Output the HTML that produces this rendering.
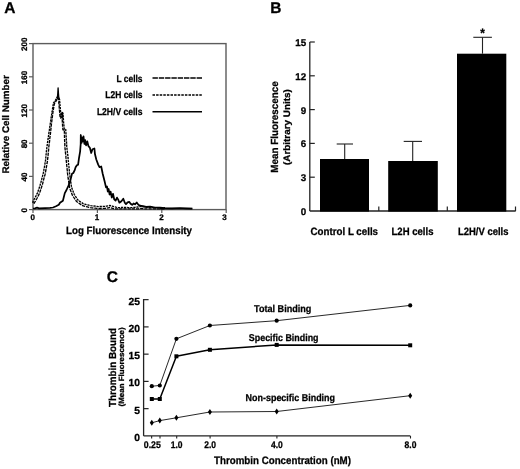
<!DOCTYPE html>
<html lang="en"><head><meta charset="utf-8"><title>Figure</title>
<style>html,body{margin:0;padding:0;background:#fff}svg{display:block;filter:grayscale(1)}svg text{font-family:"Liberation Sans",Arial,Helvetica,sans-serif;font-weight:bold;text-rendering:geometricPrecision;stroke:#000;stroke-width:.28px}</style></head>
<body>
<svg width="520" height="469" viewBox="0 0 520 469"  fill="#000">
<rect width="520" height="469" fill="#fff"/>
<text x="4.2" y="13.4" font-size="15.5" text-anchor="start" >A</text>
<text x="270.3" y="13.4" font-size="15.5" text-anchor="start" >B</text>
<text x="106.8" y="281.6" font-size="15.5" text-anchor="start" >C</text>
<rect x="33" y="43.6" width="193" height="166.0" fill="none" stroke="#5c5c5c" stroke-width="1.4"/>
<line x1="29" y1="209.6" x2="33" y2="209.6" stroke="#5c5c5c" stroke-width="1.2" />
<text x="27.2" y="210.29999999999998" font-size="8.0" text-anchor="middle" transform="rotate(-90 27.2 210.29999999999998)" >0</text>
<line x1="29" y1="176.39999999999998" x2="33" y2="176.39999999999998" stroke="#5c5c5c" stroke-width="1.2" />
<text x="27.2" y="177.09999999999997" font-size="8.0" text-anchor="middle" transform="rotate(-90 27.2 177.09999999999997)" >40</text>
<line x1="29" y1="143.2" x2="33" y2="143.2" stroke="#5c5c5c" stroke-width="1.2" />
<text x="27.2" y="143.89999999999998" font-size="8.0" text-anchor="middle" transform="rotate(-90 27.2 143.89999999999998)" >80</text>
<line x1="29" y1="109.99999999999999" x2="33" y2="109.99999999999999" stroke="#5c5c5c" stroke-width="1.2" />
<text x="27.2" y="110.69999999999999" font-size="8.0" text-anchor="middle" transform="rotate(-90 27.2 110.69999999999999)" >120</text>
<line x1="29" y1="76.79999999999998" x2="33" y2="76.79999999999998" stroke="#5c5c5c" stroke-width="1.2" />
<text x="27.2" y="77.49999999999999" font-size="8.0" text-anchor="middle" transform="rotate(-90 27.2 77.49999999999999)" >160</text>
<line x1="29" y1="43.599999999999994" x2="33" y2="43.599999999999994" stroke="#5c5c5c" stroke-width="1.2" />
<text x="27.2" y="44.3" font-size="8.0" text-anchor="middle" transform="rotate(-90 27.2 44.3)" >200</text>
<line x1="33.0" y1="209.6" x2="33.0" y2="213.1" stroke="#5c5c5c" stroke-width="1.2" />
<text x="32.7" y="220.3" font-size="8.0" text-anchor="middle" >0</text>
<line x1="97.4" y1="209.6" x2="97.4" y2="213.1" stroke="#5c5c5c" stroke-width="1.2" />
<text x="97.10000000000001" y="220.3" font-size="8.0" text-anchor="middle" >1</text>
<line x1="161.8" y1="209.6" x2="161.8" y2="213.1" stroke="#5c5c5c" stroke-width="1.2" />
<text x="161.5" y="220.3" font-size="8.0" text-anchor="middle" >2</text>
<line x1="226.20000000000002" y1="209.6" x2="226.20000000000002" y2="213.1" stroke="#5c5c5c" stroke-width="1.2" />
<text x="224.50000000000003" y="220.3" font-size="8.0" text-anchor="middle" >3</text>
<text x="9.4" y="124.3" font-size="9.6" text-anchor="middle" transform="rotate(-90 9.4 124.3)" textLength="98.4" lengthAdjust="spacingAndGlyphs" >Relative Cell Number</text>
<text x="129" y="234.4" font-size="10.6" text-anchor="middle" textLength="126" lengthAdjust="spacingAndGlyphs" >Log Fluorescence Intensity</text>
<text x="142.5" y="81.5" font-size="9.9" text-anchor="end" textLength="26" lengthAdjust="spacingAndGlyphs" >L cells</text>
<text x="142.5" y="98.3" font-size="9.9" text-anchor="end" textLength="37.2" lengthAdjust="spacingAndGlyphs" >L2H cells</text>
<text x="142.5" y="114.9" font-size="9.9" text-anchor="end" textLength="45.6" lengthAdjust="spacingAndGlyphs" >L2H/V cells</text>
<line x1="152.5" y1="78" x2="202" y2="78" stroke="#000" stroke-width="1.4" stroke-dasharray="5.4 0.9"/>
<line x1="152.5" y1="95" x2="202" y2="95" stroke="#000" stroke-width="1.5" stroke-dasharray="2.5 1.1"/>
<line x1="152.5" y1="111.7" x2="202" y2="111.7" stroke="#000" stroke-width="1.6" />
<polyline fill="none" stroke="#000" stroke-width="1.35" stroke-linejoin="round" stroke-dasharray="2.3 0.8" points="33.0,202.9 33.0,201.5 33.6,200.2 34.4,198.9 35.1,197.6 36.0,195.9 36.8,194.2 37.7,192.6 38.1,191.1 38.6,189.7 39.1,188.2 39.6,186.6 40.1,185.1 40.5,183.7 41.0,182.1 41.4,180.5 41.8,178.9 42.2,177.3 42.6,175.8 43.0,174.2 43.4,172.6 43.7,171.2 43.9,169.7 44.2,168.2 44.5,166.6 44.7,165.1 45.0,163.6 45.2,162.1 45.5,160.6 45.7,159.1 45.8,157.5 46.0,156.0 46.1,154.4 46.3,152.8 46.4,151.3 46.6,149.7 46.8,148.1 47.0,146.6 47.2,145.1 47.4,143.5 47.6,142.0 47.8,140.5 48.1,139.0 48.3,137.5 48.5,136.0 48.7,134.5 48.9,132.9 49.2,131.3 49.4,129.8 49.6,128.2 49.8,126.6 50.1,125.0 50.3,123.4 50.5,121.9 50.8,120.3 51.0,118.7 51.2,117.1 51.5,115.6 51.7,114.0 51.9,112.4 52.2,110.9 52.4,109.4 52.7,107.8 52.9,106.3 53.2,104.8 53.4,103.2 54.9,101.2 56.1,99.0 57.3,96.9 58.9,98.0 59.6,99.6 59.7,101.4 59.9,103.2 60.0,104.9 60.2,106.7 60.3,108.4 60.4,109.9 60.6,111.4 60.7,112.9 60.8,114.4 60.9,115.8 60.6,117.0 61.1,116.2 61.6,114.2 62.1,112.0 63.0,114.0 63.1,115.8 63.2,117.5 63.4,119.1 63.5,120.8 63.6,122.5 63.8,124.2 64.0,126.0 64.1,127.6 64.3,129.3 65.7,129.3 65.8,130.9 65.9,132.6 66.0,134.1 66.1,135.6 66.2,137.2 66.3,138.7 66.4,140.2 66.5,141.8 66.6,143.3 66.7,144.8 66.7,146.3 66.9,147.9 67.1,149.5 67.3,151.2 67.5,152.8 67.7,154.4 67.9,156.0 68.0,157.7 68.2,159.3 68.3,160.9 68.5,162.5 68.6,164.1 68.8,165.7 69.0,167.3 69.1,168.9 69.3,170.5 69.4,172.1 69.6,173.7 69.8,175.2 70.0,176.7 70.2,178.2 70.4,179.7 70.6,181.2 70.9,182.7 71.1,184.2 71.3,185.7 71.5,187.1 72.0,188.6 72.6,190.1 73.2,191.6 73.7,193.1 74.3,194.5 75.2,196.0 76.2,197.4 77.1,198.8 78.0,200.1 79.4,201.1 80.7,202.0 82.1,202.9 83.4,203.9 84.9,204.2 86.3,204.6 87.9,204.9 89.4,205.3 90.9,205.7 92.4,205.9 93.9,206.0 95.4,206.2 96.9,206.4 98.4,206.6 100.1,206.5 101.7,206.5 103.3,206.4 104.9,206.4 106.5,206.1 108.2,205.8 110.0,205.5 112.1,206.1 114.3,206.7 116.0,207.2 117.7,207.6 119.5,207.6 121.3,207.5 123.1,207.5 125.0,207.5 126.8,207.5 128.5,207.6 130.2,207.6 132.0,207.7 133.4,207.5 134.9,207.3 136.4,207.2 137.9,207.0 140.0,206.7 142.1,206.4 144.1,206.9 146.2,207.4 147.6,207.4 149.0,207.5 150.5,207.5 152.0,207.5 153.5,207.6 155.0,207.6 156.7,207.6 158.3,207.6 160.0,207.6 161.7,207.7 163.3,207.7 165.0,207.7"/>
<polyline fill="none" stroke="#000" stroke-width="1.35" stroke-linejoin="round" stroke-dasharray="3.3 0.9" points="33.9,203.8 34.6,202.5 35.4,201.2 36.1,199.8 36.9,198.5 37.8,196.8 38.6,195.1 39.5,193.4 40.0,191.8 40.5,190.3 41.0,188.8 41.5,187.3 42.0,185.7 42.5,184.2 42.9,182.6 43.3,181.0 43.7,179.4 44.1,177.9 44.5,176.3 45.0,174.7 45.4,173.1 45.6,171.5 45.9,170.0 46.2,168.5 46.4,167.0 46.7,165.5 47.0,164.0 47.2,162.4 47.5,160.9 47.6,159.3 47.8,157.7 48.0,156.2 48.1,154.6 48.3,153.0 48.4,151.5 48.6,149.9 48.7,148.4 48.8,146.8 49.0,145.3 49.2,143.8 49.4,142.3 49.6,140.8 49.7,139.2 49.9,137.7 50.1,136.2 50.3,134.7 50.5,133.1 50.6,131.5 50.8,129.9 51.0,128.4 51.2,126.8 51.3,125.2 51.5,123.6 51.7,122.0 51.9,120.4 52.1,118.9 52.3,117.3 52.5,115.7 52.7,114.1 52.9,112.5 53.1,111.0 53.4,109.5 53.6,108.0 53.9,106.5 54.1,105.1 54.4,103.6 55.7,101.6 56.9,99.7 57.7,97.8 58.3,98.8 58.6,99.9 58.7,101.6 58.9,103.3 59.0,105.0 59.2,106.7 59.3,108.5 59.4,110.0 59.6,111.5 59.7,113.0 59.8,114.5 60.0,116.2 60.6,118.0 62.1,116.7 62.4,114.7 62.7,112.9 62.0,114.2 62.1,115.8 62.2,117.5 62.2,119.2 62.3,120.9 62.4,122.6 62.5,124.3 62.6,126.1 62.8,128.0 62.9,129.8 64.3,129.8 64.4,131.3 64.4,132.7 64.4,134.2 64.5,135.7 64.5,137.3 64.6,138.8 64.6,140.3 64.7,141.8 64.8,143.4 64.8,144.9 64.9,146.5 65.0,148.1 65.2,149.8 65.3,151.4 65.5,153.0 65.7,154.6 65.9,156.2 66.0,157.9 66.2,159.5 66.3,161.1 66.5,162.7 66.7,164.3 66.8,165.9 67.0,167.5 67.1,169.1 67.3,170.7 67.4,172.4 67.6,174.0 67.8,175.5 68.0,177.0 68.2,178.5 68.5,180.0 68.7,181.5 68.9,183.0 69.1,184.5 69.3,186.1 69.5,187.6 70.1,189.2 70.7,190.8 71.3,192.3 71.9,193.9 72.5,195.5 73.5,197.0 74.5,198.5 75.5,200.0 76.6,201.5 78.1,202.6 79.6,203.6 81.1,204.7 82.6,205.7 84.2,206.1 85.8,206.5 87.4,206.9 88.9,207.3 90.5,207.7 92.1,207.9 93.7,208.0 95.2,208.2 96.8,208.4 98.4,208.6 100.0,208.5 101.7,208.5 103.4,208.4 105.1,208.4 106.8,208.1 108.3,207.8 109.8,207.5 111.8,208.1 113.7,208.7 115.6,208.9 117.5,208.9 119.4,208.9 121.3,208.9 123.2,208.9 125.0,208.9 126.7,208.9 128.5,208.9 130.3,208.9 132.0,208.9 133.6,208.9 135.1,208.9 136.6,208.9 138.1,208.9 140.0,208.7 141.9,208.4 143.9,208.9 145.8,208.9 147.4,208.9 149.0,208.9 150.5,208.9 152.0,208.9 153.5,208.9 155.0,208.9 156.7,208.9 158.3,208.9 160.0,208.9 161.7,208.9 163.3,208.9 165.0,208.9"/>
<polyline fill="none" stroke="#000" stroke-width="1.3" stroke-linejoin="round"  points="57.3,99.0 57.8,93.0 58.1,87.8 58.5,94.0 59.0,100.0"/>
<polyline fill="none" stroke="#000" stroke-width="0.9" stroke-linejoin="round"  points="62.1,117.0 62.5,112.3 62.9,119.0"/>
<polyline fill="none" stroke="#000" stroke-width="1.75" stroke-linejoin="round" stroke-linejoin="miter" points="33.0,208.5 35.0,208.3 37.0,207.6 39.0,208.4 45.0,208.1 50.0,207.9 53.0,207.5 56.0,206.3 58.8,204.8 60.0,202.8 62.9,200.8 64.8,193.1 66.5,190.0 68.6,185.4 70.0,181.9 71.5,175.8 72.0,173.7 73.3,173.0 74.6,170.4 75.6,167.2 76.9,165.2 78.1,164.6 79.0,158.2 80.1,151.7 80.7,144.0 80.8,135.0 81.6,142.8 82.2,137.6 83.0,141.4 83.5,136.3 84.4,144.0 85.2,140.1 86.1,145.3 87.3,141.4 88.4,146.0 89.9,147.9 91.2,153.0 92.5,149.2 94.4,148.5 95.0,154.3 96.3,159.5 98.2,164.6 99.5,167.2 101.2,166.5 102.7,173.7 104.6,181.3 106.0,187.4 107.0,186.5 107.8,191.5 108.6,189.0 109.6,194.5 110.6,191.6 111.8,197.5 113.0,193.8 114.2,199.3 115.6,200.6 117.0,197.6 118.2,199.6 119.4,202.7 121.4,201.2 123.3,198.8 124.8,202.7 126.0,204.1 127.6,202.3 129.2,201.8 130.6,203.7 132.2,204.9 133.6,203.5 135.0,204.3 136.7,202.5 138.4,204.7 140.0,205.7 143.0,206.1 146.0,206.9 150.0,206.7 155.0,207.7 160.0,207.5 165.0,208.1 172.0,208.3 180.0,208.0 186.0,208.4 192.5,208.7"/>
<line x1="160" y1="208.6" x2="192" y2="208.6" stroke="#000" stroke-width="1.4" />
<line x1="309.8" y1="42" x2="309.8" y2="211" stroke="#222" stroke-width="1.3" />
<line x1="309.8" y1="211" x2="515.7" y2="211" stroke="#222" stroke-width="1.3" />
<text x="306.2" y="214.9" font-size="9.8" text-anchor="end" >0</text>
<line x1="309.8" y1="177.2" x2="314.8" y2="177.2" stroke="#222" stroke-width="1.2" />
<text x="306.2" y="181.1" font-size="9.8" text-anchor="end" >3</text>
<line x1="309.8" y1="143.4" x2="314.8" y2="143.4" stroke="#222" stroke-width="1.2" />
<text x="306.2" y="147.3" font-size="9.8" text-anchor="end" >6</text>
<line x1="309.8" y1="109.60000000000001" x2="314.8" y2="109.60000000000001" stroke="#222" stroke-width="1.2" />
<text x="306.2" y="113.50000000000001" font-size="9.8" text-anchor="end" >9</text>
<line x1="309.8" y1="75.80000000000001" x2="314.8" y2="75.80000000000001" stroke="#222" stroke-width="1.2" />
<text x="306.2" y="79.70000000000002" font-size="9.8" text-anchor="end" >12</text>
<line x1="309.8" y1="42.0" x2="314.8" y2="42.0" stroke="#222" stroke-width="1.2" />
<text x="306.2" y="45.9" font-size="9.8" text-anchor="end" >15</text>
<line x1="378.8" y1="211" x2="378.8" y2="206.5" stroke="#222" stroke-width="1.2" />
<line x1="447.3" y1="211" x2="447.3" y2="206.5" stroke="#222" stroke-width="1.2" />
<line x1="515.5" y1="211" x2="515.5" y2="206.5" stroke="#222" stroke-width="1.2" />
<rect x="320" y="159" width="49" height="52.599999999999994" fill="#000"/>
<line x1="344.7" y1="159" x2="344.7" y2="144" stroke="#222" stroke-width="1.1" />
<line x1="336.7" y1="144" x2="353" y2="144" stroke="#222" stroke-width="1.1" />
<rect x="388.2" y="161" width="49.60000000000002" height="50.599999999999994" fill="#000"/>
<line x1="412.7" y1="161" x2="412.7" y2="141.4" stroke="#222" stroke-width="1.1" />
<line x1="403.7" y1="141.4" x2="422" y2="141.4" stroke="#222" stroke-width="1.1" />
<rect x="457" y="53.7" width="49.30000000000001" height="157.89999999999998" fill="#000"/>
<line x1="482.5" y1="53.7" x2="482.5" y2="37.3" stroke="#222" stroke-width="1.1" />
<line x1="473.3" y1="37.3" x2="491.9" y2="37.3" stroke="#222" stroke-width="1.1" />
<text x="482.5" y="37.2" font-size="12" text-anchor="middle" textLength="4.6" lengthAdjust="spacingAndGlyphs" >*</text>
<text x="344.3" y="235.3" font-size="10.6" text-anchor="middle" textLength="67.4" lengthAdjust="spacingAndGlyphs" >Control L cells</text>
<text x="412.5" y="235.3" font-size="10.6" text-anchor="middle" textLength="41.9" lengthAdjust="spacingAndGlyphs" >L2H cells</text>
<text x="483.2" y="235.3" font-size="10.6" text-anchor="middle" textLength="50.5" lengthAdjust="spacingAndGlyphs" >L2H/V cells</text>
<text x="278.4" y="127" font-size="10.3" text-anchor="middle" transform="rotate(-90 278.4 127)" textLength="91.4" lengthAdjust="spacingAndGlyphs" >Mean Fluorescence</text>
<text x="289.9" y="127.1" font-size="9.4" text-anchor="middle" transform="rotate(-90 289.9 127.1)" textLength="75.8" lengthAdjust="spacingAndGlyphs" >(Arbitrary Units)</text>
<line x1="143.6" y1="299" x2="143.6" y2="435.9" stroke="#222" stroke-width="1.3" />
<line x1="143.6" y1="435.9" x2="410.3" y2="435.9" stroke="#222" stroke-width="1.3" />
<text x="140" y="440.9" font-size="10.3" text-anchor="end" >0</text>
<line x1="143.6" y1="408.65" x2="148.6" y2="408.65" stroke="#222" stroke-width="1.2" />
<text x="140" y="413.65" font-size="10.3" text-anchor="end" >5</text>
<line x1="143.6" y1="381.4" x2="148.6" y2="381.4" stroke="#222" stroke-width="1.2" />
<text x="140" y="386.4" font-size="10.3" text-anchor="end" >10</text>
<line x1="143.6" y1="354.15" x2="148.6" y2="354.15" stroke="#222" stroke-width="1.2" />
<text x="140" y="359.15" font-size="10.3" text-anchor="end" >15</text>
<line x1="143.6" y1="326.9" x2="148.6" y2="326.9" stroke="#222" stroke-width="1.2" />
<text x="140" y="331.9" font-size="10.3" text-anchor="end" >20</text>
<line x1="143.6" y1="299.65" x2="148.6" y2="299.65" stroke="#222" stroke-width="1.2" />
<text x="140" y="304.65" font-size="10.3" text-anchor="end" >25</text>
<line x1="151.65" y1="435.9" x2="151.65" y2="438.5" stroke="#222" stroke-width="1.1" />
<text x="152.35" y="448.0" font-size="9.6" text-anchor="middle" textLength="17.0" lengthAdjust="spacingAndGlyphs" >0.25</text>
<line x1="160.0" y1="435.9" x2="160.0" y2="438.5" stroke="#222" stroke-width="1.1" />
<line x1="176.70000000000002" y1="435.9" x2="176.70000000000002" y2="438.5" stroke="#222" stroke-width="1.1" />
<text x="176.70000000000002" y="448.0" font-size="9.6" text-anchor="middle" textLength="11.8" lengthAdjust="spacingAndGlyphs" >1.0</text>
<line x1="210.10000000000002" y1="435.9" x2="210.10000000000002" y2="438.5" stroke="#222" stroke-width="1.1" />
<text x="210.10000000000002" y="448.0" font-size="9.6" text-anchor="middle" textLength="11.8" lengthAdjust="spacingAndGlyphs" >2.0</text>
<line x1="276.9" y1="435.9" x2="276.9" y2="438.5" stroke="#222" stroke-width="1.1" />
<text x="276.9" y="448.0" font-size="9.6" text-anchor="middle" textLength="11.8" lengthAdjust="spacingAndGlyphs" >4.0</text>
<line x1="410.5" y1="435.9" x2="410.5" y2="438.5" stroke="#222" stroke-width="1.1" />
<text x="410.5" y="448.0" font-size="9.6" text-anchor="middle" textLength="11.8" lengthAdjust="spacingAndGlyphs" >8.0</text>
<polyline fill="none" stroke="#111" stroke-width="0.9" stroke-linejoin="round"  points="151.8,386.2 159.8,385.5 176.4,338.8 209.9,325.5 276.7,320.7 410.2,305.4"/>
<polyline fill="none" stroke="#000" stroke-width="1.5" stroke-linejoin="round"  points="151.8,399.0 159.8,399.0 176.4,356.3 209.9,349.8 276.7,344.9 410.2,345.3"/>
<polyline fill="none" stroke="#111" stroke-width="0.9" stroke-linejoin="round"  points="151.8,422.8 159.8,420.6 176.4,417.8 209.9,412.0 276.7,411.5 410.2,395.7"/>
<circle cx="151.8" cy="386.2" r="2.1"/>
<circle cx="159.8" cy="385.5" r="2.1"/>
<circle cx="176.4" cy="338.8" r="2.1"/>
<circle cx="209.9" cy="325.5" r="2.1"/>
<circle cx="276.7" cy="320.7" r="2.1"/>
<circle cx="410.2" cy="305.4" r="2.1"/>
<rect x="149.8" y="397" width="4" height="4"/>
<rect x="157.8" y="397" width="4" height="4"/>
<rect x="174.4" y="354.3" width="4" height="4"/>
<rect x="207.9" y="347.8" width="4" height="4"/>
<rect x="274.7" y="342.9" width="4" height="4"/>
<rect x="408.2" y="343.3" width="4" height="4"/>
<polygon points="151.8,419.8 153.8,422.8 151.8,425.8 149.8,422.8"/>
<polygon points="159.8,417.6 161.8,420.6 159.8,423.6 157.8,420.6"/>
<polygon points="176.4,414.8 178.4,417.8 176.4,420.8 174.4,417.8"/>
<polygon points="209.9,409 211.9,412 209.9,415 207.9,412"/>
<polygon points="276.7,408.5 278.7,411.5 276.7,414.5 274.7,411.5"/>
<polygon points="410.2,392.7 412.2,395.7 410.2,398.7 408.2,395.7"/>
<text x="282.7" y="311.8" font-size="9.9" text-anchor="middle" textLength="57.4" lengthAdjust="spacingAndGlyphs" >Total Binding</text>
<text x="283.7" y="340.9" font-size="9.9" text-anchor="middle" textLength="69.7" lengthAdjust="spacingAndGlyphs" >Specific Binding</text>
<text x="290.3" y="401.2" font-size="9.9" text-anchor="middle" textLength="89.4" lengthAdjust="spacingAndGlyphs" >Non-specific Binding</text>
<text x="282.5" y="464.3" font-size="10.8" text-anchor="middle" textLength="137" lengthAdjust="spacingAndGlyphs" >Thrombin Concentration (nM)</text>
<text x="116" y="367.5" font-size="10.2" text-anchor="middle" transform="rotate(-90 116 367.5)" textLength="79.2" lengthAdjust="spacingAndGlyphs" >Thrombin Bound</text>
<text x="124.3" y="366.9" font-size="7.6" text-anchor="middle" transform="rotate(-90 124.3 366.9)" textLength="79.1" lengthAdjust="spacingAndGlyphs" >(Mean Fluorescence)</text>
</svg>
</body></html>
